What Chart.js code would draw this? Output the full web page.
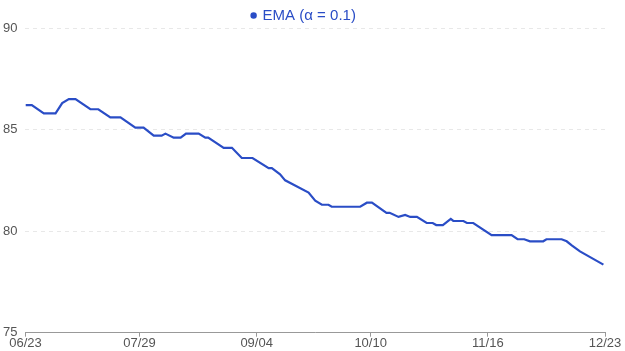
<!DOCTYPE html>
<html lang="en">
<head>
    <meta charset="UTF-8">
    <title>EMA</title>
    <script src="https://cdn.jsdelivr.net/npm/chart.js"></script>
    <style>
        html, body {
            margin: 0;
            padding: 0;
            background: #fff;
        }
        .container {
            width: 625px;
            height: 351px;
        }
    </style>
</head>
<body>

<div class="container">
    <canvas id="ema-graph"></canvas>
</div>

<script>
    // days since 06/23, and the EMA value read at each turning point
    const dayOffsets = [0, 2, 5.8, 9.5, 11.6, 13.7, 15.8, 20.5, 23, 26.8, 30, 34.7, 37.3, 40.5, 43, 44.2, 46.8, 49,
        50.7, 54.7, 56.8, 57.7, 62.6, 65.2, 68.3, 71.7, 76.8, 77.8, 80.4, 82, 89.4, 91.5, 93.6, 95.7, 96.7,
        105.7, 107.8, 109.4, 114, 115, 117.8, 119.9, 121.5, 123.6, 126.7, 128.6, 129.7, 131.8, 134.3, 135.1,
        138.3, 139.4, 141.4, 147.2, 153.5, 155.4, 157.5, 159.3, 163.5, 164.5, 169.3, 170.9, 172.5, 175.1, 182.5];
    const emaValues = [86.2, 86.2, 85.8, 85.8, 86.3, 86.5, 86.5, 86.0, 86.0, 85.6, 85.6, 85.1, 85.1, 84.7, 84.7, 84.8, 84.6, 84.6,
        84.8, 84.8, 84.6, 84.6, 84.1, 84.1, 83.6, 83.6, 83.1, 83.1, 82.8, 82.5, 81.9, 81.5, 81.3, 81.3, 81.2,
        81.2, 81.4, 81.4, 80.9, 80.9, 80.7, 80.8, 80.7, 80.7, 80.4, 80.4, 80.3, 80.3, 80.6, 80.5,
        80.5, 80.4, 80.4, 79.8, 79.8, 79.6, 79.6, 79.5, 79.5, 79.6, 79.6, 79.5, 79.3, 79.0, 78.35];

    const tickDays = [0, 36, 73, 109, 146, 183];
    const tickLabels = ['06/23', '07/29', '09/04', '10/10', '11/16', '12/23'];

    const lineColor = '#2a4dc6';
    const fontFamily = 'Arial, "Liberation Sans", sans-serif';

    const points = dayOffsets.map((d, i) => ({ x: d, y: emaValues[i] }));

    // pull the plot area a little closer to the legend
    const legendGap = {
        id: 'legendGap',
        beforeInit(chart) {
            const legend = chart.legend;
            if (!legend) return;
            const fit = legend.fit;
            legend.fit = function () {
                fit.call(this);
                this.height -= 5;
            };
        }
    };

    const ctx = document.getElementById('ema-graph').getContext('2d');
    new Chart(ctx, {
        type: 'line',
        data: {
            datasets: [{
                label: 'EMA (α = 0.1)',
                data: points,
                borderColor: lineColor,
                backgroundColor: lineColor,
                borderWidth: 2.2,
                pointRadius: 0,
                tension: 0
            }]
        },
        options: {
            responsive: true,
            maintainAspectRatio: false,
            animation: false,
            layout: {
                padding: { left: 3, right: 20, top: 4, bottom: 0 }
            },
            plugins: {
                tooltip: { enabled: false },
                legend: {
                    position: 'top',
                    labels: {
                        usePointStyle: true,
                        pointStyle: 'circle',
                        boxWidth: 3,
                        boxHeight: 3,
                        padding: 4,
                        color: lineColor,
                        font: { family: fontFamily, size: 15 }
                    }
                }
            },
            scales: {
                x: {
                    type: 'linear',
                    min: 0,
                    max: 183,
                    afterBuildTicks: (axis) => {
                        axis.ticks = tickDays.map(v => ({ value: v }));
                    },
                    ticks: {
                        autoSkip: false,
                        maxRotation: 0,
                        padding: 0,
                        color: '#555',
                        font: { family: fontFamily, size: 13, lineHeight: 1.1 },
                        callback: (value) => tickLabels[tickDays.indexOf(value)]
                    },
                    grid: {
                        drawOnChartArea: false,
                        drawTicks: true,
                        tickLength: 4,
                        color: '#999'
                    },
                    border: { display: true, color: '#999', width: 1 }
                },
                y: {
                    min: 75,
                    max: 90,
                    ticks: {
                        stepSize: 5,
                        padding: 4,
                        crossAlign: 'far',
                        color: '#555',
                        font: { family: fontFamily, size: 13 }
                    },
                    grid: {
                        drawTicks: false,
                        color: '#e8e8e8'
                    },
                    border: { display: false, dash: [4, 4] }
                }
            }
        },
        plugins: [legendGap]
    });
</script>

</body>
</html>
